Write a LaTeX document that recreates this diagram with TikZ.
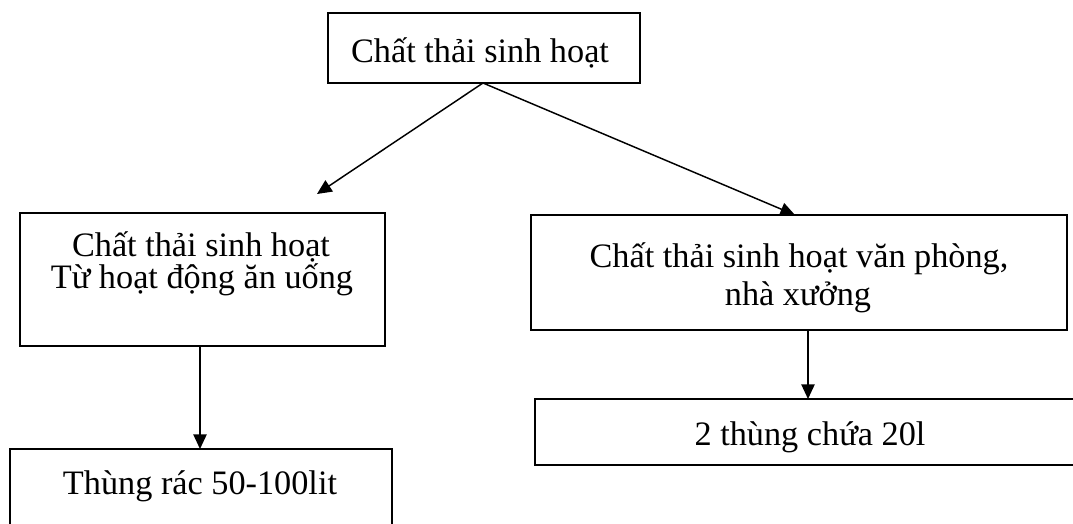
\documentclass[tikz,border=0pt]{standalone}
\usepackage{fontspec}
\setmainfont{Liberation Serif}
\usetikzlibrary{arrows.meta}
\begin{document}
\begin{tikzpicture}[x=0.75pt,y=-0.75pt,
  box/.style={draw=black,line width=1.5pt,inner sep=0pt,outer sep=0pt},
  txt/.style={anchor=base,inner sep=0pt,font=\fontsize{25.7}{30}\selectfont},
  arr/.style={line width=1.1pt,-{Triangle[length=11pt,width=10pt]}}]
\useasboundingbox (0,0) rectangle (1073,524);
% boxes
\node[box,minimum width=312*0.75pt,minimum height=70*0.75pt] (top) at (484,48) {};
\node[box,minimum width=365*0.75pt,minimum height=133*0.75pt] (lbox) at (202.5,279.5) {};
\node[box,minimum width=382*0.75pt,minimum height=90*0.75pt] (blbox) at (201,494) {};
\node[box,minimum width=536*0.75pt,minimum height=115*0.75pt] (rbox) at (799,272.5) {};
\node[box,minimum width=545*0.75pt,minimum height=66*0.75pt] (brbox) at (807.5,432) {};
% texts
\node[txt] (t0) at (480,63) {Chất thải sinh hoạt};
\node[txt] (t1) at (201,256) {Chất thải sinh hoạt};
\node[txt] (t2) at (202,288) {Từ hoạt động ăn uống};
\node[txt] (t3) at (200,494) {Thùng rác 50-100lit};
\node[txt] (t4) at (799,267) {Chất thải sinh hoạt văn phòng,};
\node[txt] (t5) at (798,305) {nhà xưởng};
\node[txt] (t6) at (810,445) {2 thùng chứa 20l};
% connectors
\coordinate (apex) at (483,83);
\coordinate (ltip) at (317,194);
\coordinate (rtip) at (795,215);
\coordinate (xl) at (200,0);
\coordinate (xr) at (808,0);
\draw[arr] (apex) -- (ltip);
\draw[arr] (apex) -- (rtip);
\draw[arr] (lbox.south -| xl) -- (blbox.north -| xl);
\draw[arr] (rbox.south -| xr) -- (brbox.north -| xr);
\end{tikzpicture}
\end{document}
